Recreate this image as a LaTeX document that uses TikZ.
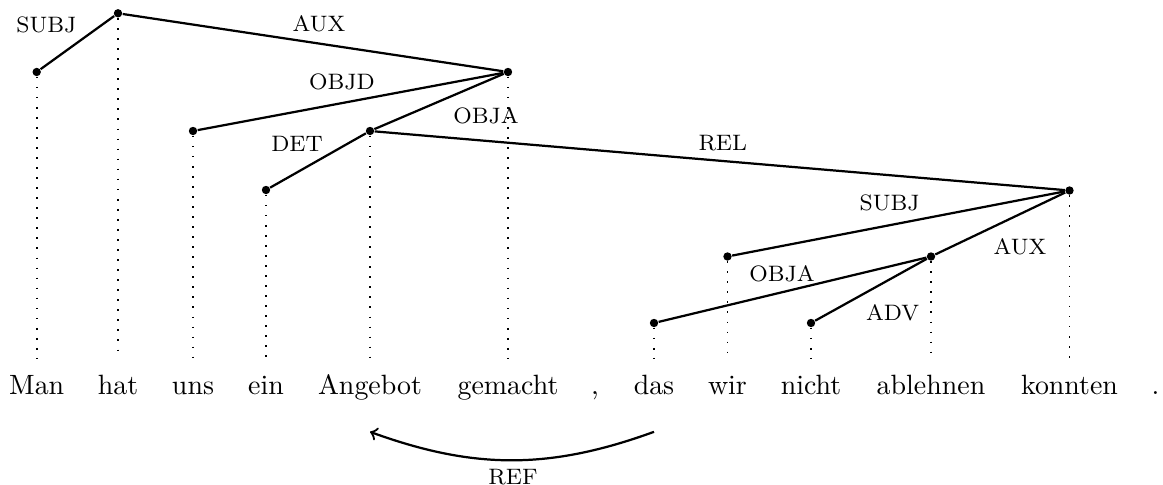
\documentclass[tikz,border=0pt]{standalone}
\tikzset{
  word/.style={anchor=base, inner sep=0pt, text height=7pt, text depth=2pt},
  hd/.style={circle, fill, inner sep=0pt, minimum size=3pt},
  rel/.style={font=\footnotesize, inner sep=1pt},
  arc/.style={line width=0.8pt},
  drop/.style={line width=0.6pt, dash pattern=on 0.6pt off 3pt, shorten >=5.9pt}
}
\begin{document}
\begin{tikzpicture}[x=0.3584pt,y=-0.3584pt]
  \useasboundingbox (0,0) rectangle (1163,485);

  % words
  \foreach \x/\n/\w in {36.7/man/Man, 118/hat/hat, 193/uns/uns, 266/ein/ein,
      370/angebot/Angebot, 508/gemacht/gemacht, 654/das/das, 727.5/wir/wir,
      811/nicht/nicht, 931/ablehnen/ablehnen, 1069.5/konnten/konnten} {
    \node[word] (\n) at (\x,395) {\w};
  }
  \node[word] (komma) at (595,395) {,};
  \node[word] (punkt) at (1155.5,395) {.};

  % heads with their drop lines
  \foreach \n/\x/\y in {man/36.7/72, hat/118/13.3, uns/193/131, ein/266/190,
      angebot/370/131, gemacht/508/72, das/654/323, wir/727.5/256.5,
      nicht/811/323, ablehnen/931/256.5, konnten/1069.5/190.5} {
    \node[hd] (h\n) at (\x,\y) {};
    \draw[drop] (h\n) -- (\n.north);
  }

  % dependencies
  \draw[arc] (hhat) -- (hman);
  \draw[arc] (hhat) -- (hgemacht);
  \draw[arc] (hgemacht) -- (huns);
  \draw[arc] (hgemacht) -- (hangebot);
  \draw[arc] (hangebot) -- (hein);
  \draw[arc] (hangebot) -- (hkonnten);
  \draw[arc] (hkonnten) -- (hwir);
  \draw[arc] (hkonnten) -- (hablehnen);
  \draw[arc] (hablehnen) -- (hdas);
  \draw[arc] (hablehnen) -- (hnicht);

  % labels
  \node[rel] (lsubj) at (46.4,25) {SUBJ};
  \node[rel] (laux) at (319,24) {AUX};
  \node[rel] (lobjd) at (342,81.7) {OBJD};
  \node[rel] (lobja) at (486,116) {OBJA};
  \node[rel] (ldet) at (297,144) {DET};
  \node[rel] (lrel) at (722.7,143.3) {REL};
  \node[rel] (lsubjb) at (889.6,203.3) {SUBJ};
  \node[rel] (lauxb) at (1020,246.7) {AUX};
  \node[rel] (lobjab) at (782,273.3) {OBJA};
  \node[rel] (ladv) at (892.7,312.7) {ADV};

  % reference
  \draw[arc,->] ([yshift=-11pt]das.south) to[bend left=20] ([yshift=-11pt]angebot.south);
  \node[rel] (lref) at (513,477) {REF};
\end{tikzpicture}
\end{document}
